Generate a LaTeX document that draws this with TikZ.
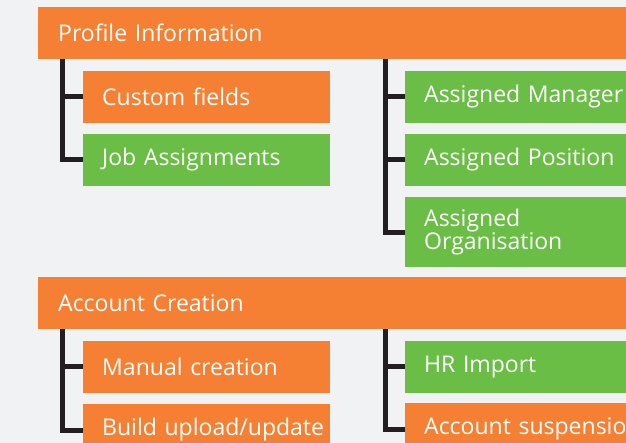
\documentclass[tikz,border=0pt]{standalone}
\usepackage{fontspec}
\setmainfont{Open Sans}
\usetikzlibrary{positioning}

\definecolor{boxorange}{HTML}{F58033}
\definecolor{boxgreen}{HTML}{6ABD45}
\definecolor{linedark}{HTML}{231F20}
\definecolor{pagegray}{HTML}{F1F2F4}

\begin{document}
\begin{tikzpicture}[
    x=1pt, y=1pt,
    font=\fontsize{23}{23}\selectfont,
    box/.style={draw=none, text=white, anchor=north west, align=left,
        inner xsep=19pt, inner ysep=0pt, minimum height=52pt},
    header/.style={box, fill=boxorange, text width=660pt, inner xsep=20pt},
    orangebox/.style={box, fill=boxorange, text width=209pt},
    greenbox/.style={box, fill=boxgreen, text width=209pt},
    wide/.style={text width=280pt},
    conn/.style={draw=linedark, line width=5pt}]

    \fill[pagegray] (0,0) rectangle (626,-443);
    \clip (0,0) rectangle (626,-443);

    % profile information block
    \node[header]                                           (Profile)   at (38,-7)  {Profile Information};
    \node[orangebox,below right=11pt and 45pt of Profile.south west]  (Custom)            {Custom fields};
    \node[greenbox]                                         (Jobs)      [below=11pt of Custom]  {Job Assignments};
    \node[greenbox,wide,below right=11pt and 367pt of Profile.south west] (Manager)      {Assigned Manager};
    \node[greenbox,wide]                                    (Position)  [below=11pt of Manager] {Assigned Position};
    \node[greenbox,wide,minimum height=70pt]                (Org)       [below=11pt of Position] {Assigned\\Organisation};

    % account creation block
    \node[header]                                           (Account)   at (38,-277) {Account Creation};
    \node[orangebox,below right=11pt and 45pt of Account.south west]  (Manual)            {Manual creation};
    \node[orangebox]                                        (Upload)    [below=11pt of Manual]  {\mbox{Build upload/update}};
    \node[greenbox,wide,below right=11pt and 367pt of Account.south west] (HR)           {HR Import};
    \node[orangebox,wide]                                   (Suspend)   [below=10pt of HR]      {Account suspension};

    \coordinate (ProfileL) at ([xshift=24pt]Profile.south west);
    \coordinate (ProfileR) at ([xshift=347pt]Profile.south west);
    \coordinate (AccountL) at ([xshift=24pt]Account.south west);
    \coordinate (AccountR) at ([xshift=347pt]Account.south west);

    \path[conn]
    (ProfileL)  |- (Custom.west)
    (ProfileL)  |- (Jobs.west)
    (ProfileR)  |- (Manager.west)
    (ProfileR)  |- (Position.west)
    (ProfileR)  |- (Org.west)
    (AccountL)  |- (Manual.west)
    (AccountL)  |- (Upload.west)
    (AccountR)  |- (HR.west)
    (AccountR)  |- (Suspend.west);
\end{tikzpicture}
\end{document}
